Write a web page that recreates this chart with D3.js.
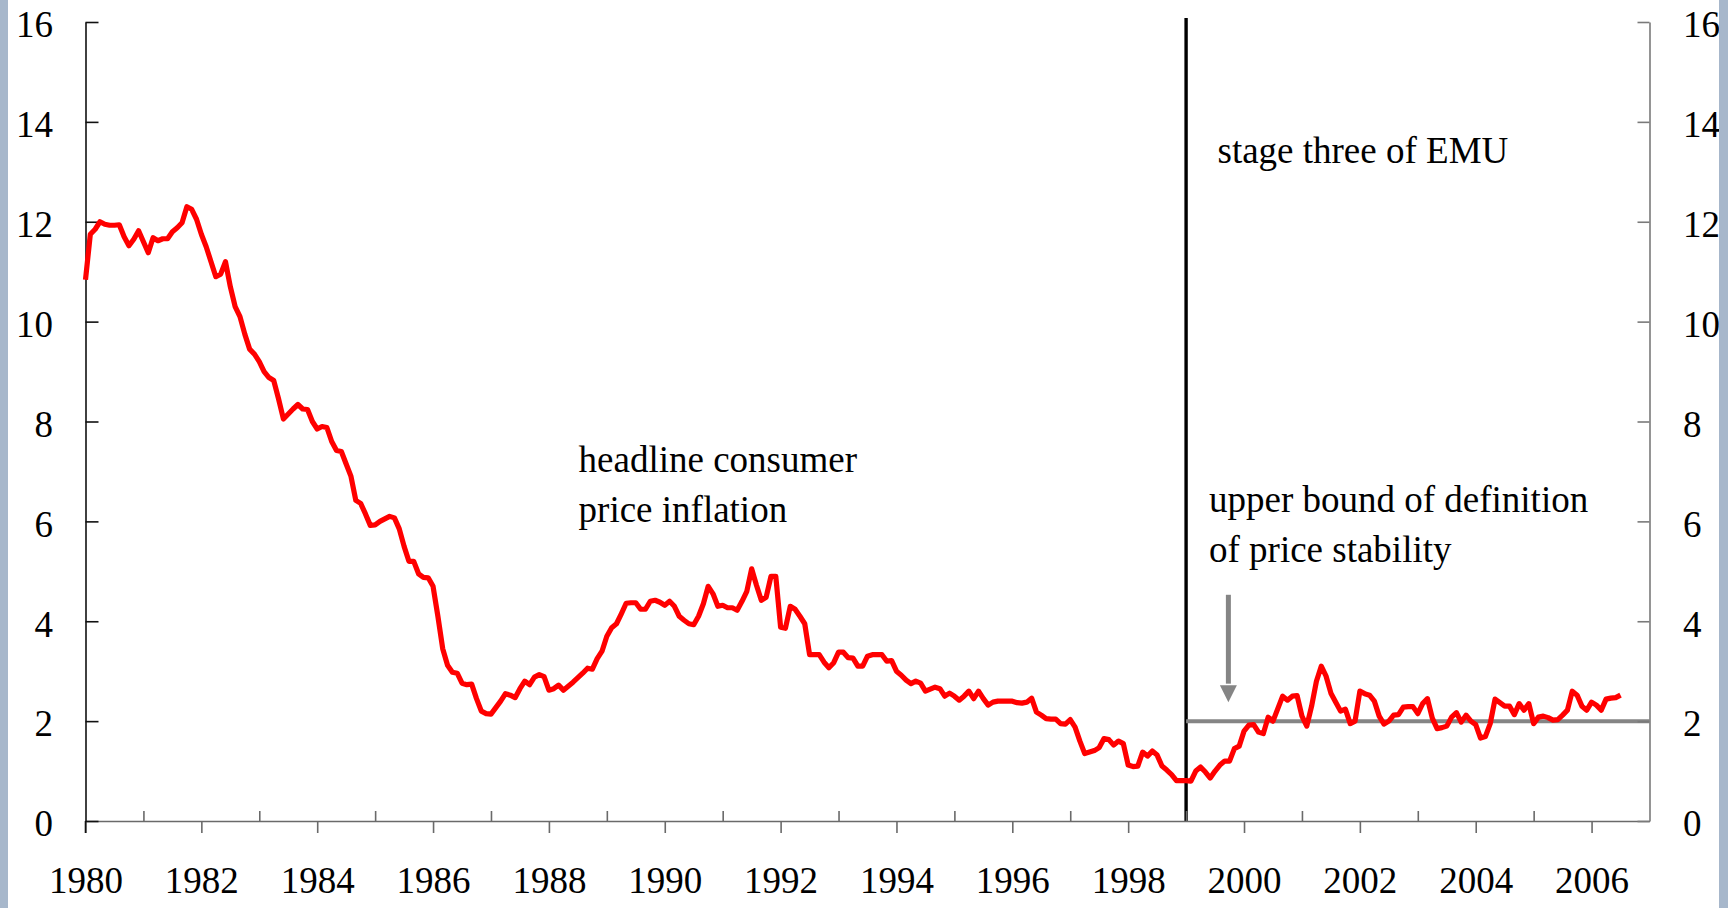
<!DOCTYPE html>
<html>
<head>
<meta charset="utf-8">
<script src="https://cdn.jsdelivr.net/npm/d3@7"></script>
<style>
  html, body { margin: 0; padding: 0; background: #ffffff; }
  svg { display: block; }
  text { font-family: "Liberation Serif", "Times New Roman", serif; fill: #000; }
</style>
</head>
<body>
<svg id="chart" width="1728" height="908"></svg>
<script>
// ---------------- data ----------------
const startYear = 1980;           // first observation: January 1980, monthly
const cpi1980s = [
  10.84, 11.75, 11.85, 12.0, 11.95, 11.93, 11.93, 11.94, 11.7, 11.52, 11.65, 11.82,
  11.6, 11.38, 11.68, 11.62, 11.66, 11.66, 11.8, 11.88, 11.98, 12.3, 12.25, 12.05,
  11.75, 11.5, 11.2, 10.9, 10.95, 11.2, 10.7, 10.3, 10.1, 9.75, 9.45, 9.35,
  9.2, 9.0, 8.88, 8.82, 8.45, 8.05, 8.15, 8.25, 8.34, 8.25, 8.24, 8.0,
  7.85, 7.9, 7.88, 7.6, 7.42, 7.4, 7.15, 6.9, 6.42, 6.36, 6.15, 5.92,
  5.93, 6.0, 6.05, 6.1, 6.07, 5.85, 5.5, 5.2, 5.2, 4.95, 4.88, 4.87,
  4.7, 4.1, 3.45, 3.12, 2.98, 2.96, 2.76, 2.73, 2.74, 2.45, 2.2, 2.15,
  2.14, 2.27, 2.4, 2.55, 2.52, 2.47, 2.65, 2.8, 2.73, 2.88, 2.93, 2.89,
  2.62, 2.65, 2.72, 2.62, 2.7, 2.78, 2.87, 2.96, 3.06, 3.04, 3.25, 3.4,
  3.7, 3.87, 3.95, 4.15, 4.36, 4.37, 4.37, 4.24, 4.24, 4.4, 4.42, 4.38
];
const cpi1990s = [
  4.32, 4.4, 4.3, 4.1, 4.02, 3.95, 3.93, 4.1, 4.35, 4.7, 4.55, 4.3,
  4.32, 4.27, 4.27, 4.22, 4.4, 4.6, 5.05, 4.72, 4.42, 4.48, 4.9, 4.9,
  3.88, 3.86, 4.3, 4.24, 4.1, 3.95, 3.33, 3.33, 3.33, 3.18, 3.07, 3.17,
  3.38, 3.38, 3.27, 3.26, 3.1, 3.1, 3.3, 3.33, 3.33, 3.33, 3.2, 3.21,
  3.0, 2.92, 2.82, 2.75, 2.8, 2.76, 2.6, 2.64, 2.68, 2.65, 2.5, 2.56,
  2.5, 2.42, 2.5, 2.6, 2.45, 2.6, 2.45, 2.32, 2.38, 2.4, 2.4, 2.4,
  2.4, 2.37, 2.36, 2.38, 2.46, 2.18, 2.12, 2.05, 2.04, 2.04, 1.95, 1.94,
  2.03, 1.88, 1.6, 1.35, 1.38, 1.41, 1.47, 1.65, 1.63, 1.52, 1.6, 1.55,
  1.12, 1.09, 1.1, 1.38, 1.3, 1.4, 1.32, 1.1, 1.02, 0.93, 0.81, 0.81,
  0.81, 0.8, 1.0, 1.08, 0.98, 0.86, 1.0, 1.12, 1.2, 1.2, 1.45, 1.5
];
const cpi2000s = [
  1.8, 1.92, 1.93, 1.78, 1.75, 2.08, 2.0, 2.25, 2.5, 2.42, 2.5, 2.51,
  2.1, 1.9, 2.3, 2.8, 3.1, 2.9, 2.56, 2.38, 2.2, 2.24, 1.95, 2.0,
  2.6, 2.55, 2.52, 2.4, 2.1, 1.94, 2.0, 2.12, 2.13, 2.28, 2.29, 2.29,
  2.15, 2.35, 2.45, 2.06, 1.85, 1.87, 1.9, 2.08, 2.17, 1.98, 2.12, 2.0,
  1.93, 1.66, 1.69, 1.95, 2.44, 2.37, 2.3, 2.3, 2.13, 2.35, 2.22, 2.35,
  1.95, 2.08, 2.1, 2.07, 2.02, 2.03, 2.12, 2.22, 2.6, 2.52, 2.3, 2.22,
  2.38, 2.32, 2.22, 2.44, 2.46, 2.47, 2.52
];
const yTicks = [0, 2, 4, 6, 8, 10, 12, 14, 16];
const yearLabels = [1980, 1982, 1984, 1986, 1988, 1990, 1992, 1994, 1996, 1998, 2000, 2002, 2004, 2006];
const minorYears = [1981, 1983, 1985, 1987, 1989, 1991, 1993, 1995, 1997, 1999, 2001, 2003, 2005];
const emuYear = 1999;
const priceStabilityBound = 2;
const labelHeadline = ["headline consumer", "price inflation"];
const labelEmu = ["stage three of EMU"];
const labelBound = ["upper bound of definition", "of price stability"];

// ---------------- layout ----------------
const svg = d3.select("#chart");
const x = d3.scaleLinear().domain([1980, 2007]).range([85.5, 1649.5]);
const y = d3.scaleLinear().domain([0, 16]).range([821, 22]);
const FONT = 37;
const SERIF = "Liberation Serif, Times New Roman, serif";

const series = cpi1980s.concat(cpi1990s, cpi2000s)
  .map((v, i) => ({ t: startYear + i / 12, v }));

// EMU vertical line
svg.append("line")
  .attr("x1", x(emuYear)).attr("x2", x(emuYear))
  .attr("y1", 18).attr("y2", y(0))
  .attr("stroke", "#000").attr("stroke-width", 3.4);

// upper bound line
svg.append("line")
  .attr("x1", x(emuYear)).attr("x2", x(2007))
  .attr("y1", y(priceStabilityBound)).attr("y2", y(priceStabilityBound))
  .attr("stroke", "#858585").attr("stroke-width", 4);

// arrow
const ax = x(1999.73);
svg.append("line")
  .attr("x1", ax).attr("x2", ax)
  .attr("y1", y(4.53)).attr("y2", y(2.75))
  .attr("stroke", "#858585").attr("stroke-width", 5);
svg.append("path")
  .attr("d", `M${ax - 8.5},${y(2.72)} L${ax + 8.5},${y(2.72)} L${ax},${y(2.38)} Z`)
  .attr("fill", "#858585");

// x axis (major ticks down with labels)
const xAxis = d3.axisBottom(x)
  .tickValues(yearLabels)
  .tickFormat(d3.format("d"))
  .tickSizeInner(12).tickSizeOuter(0).tickPadding(33.7);
const gx = svg.append("g").attr("transform", `translate(0,${y(0)})`).call(xAxis);
gx.select(".domain").attr("stroke", "#6a6a6a").attr("stroke-width", 1.6);
gx.selectAll(".tick line").attr("stroke", "#6a6a6a").attr("stroke-width", 1.6);
gx.selectAll(".tick text").attr("font-size", FONT).attr("font-family", SERIF).attr("fill", "#000");

// x axis minor ticks (up)
const xMinor = d3.axisBottom(x).tickValues(minorYears).tickFormat("").tickSizeInner(-10).tickSizeOuter(0);
const gxm = svg.append("g").attr("transform", `translate(0,${y(0)})`).call(xMinor);
gxm.select(".domain").remove();
gxm.selectAll(".tick line").attr("stroke", "#6a6a6a").attr("stroke-width", 1.6);

// left axis
const yLeft = d3.axisLeft(y).tickValues(yTicks).tickFormat(d3.format("d"))
  .tickSizeInner(-13).tickSizeOuter(0).tickPadding(32.5);
const gl = svg.append("g").attr("transform", `translate(${x(1980)},0)`).call(yLeft);
gl.select(".domain").attr("stroke", "#111").attr("stroke-width", 1.6);
gl.selectAll(".tick line").attr("stroke", "#111").attr("stroke-width", 1.6);
gl.selectAll(".tick text").attr("font-size", FONT).attr("dy", "0.4em")
  .attr("font-family", SERIF).attr("fill", "#000");
// extension of left axis down to the first major tick
svg.append("line").attr("x1", x(1980)).attr("x2", x(1980)).attr("y1", y(0)).attr("y2", y(0) + 12)
  .attr("stroke", "#111").attr("stroke-width", 1.6);

// right axis
const yRight = d3.axisRight(y).tickValues(yTicks).tickFormat(d3.format("d"))
  .tickSizeInner(-12).tickSizeOuter(0).tickPadding(33.5);
const gr = svg.append("g").attr("transform", `translate(${x(2007)},0)`).call(yRight);
gr.select(".domain").attr("stroke", "#7a7a7a").attr("stroke-width", 1.6);
gr.selectAll(".tick line").attr("stroke", "#7a7a7a").attr("stroke-width", 1.6);
gr.selectAll(".tick text").attr("font-size", FONT).attr("dy", "0.4em")
  .attr("font-family", SERIF).attr("fill", "#000");

// inflation line
const line = d3.line().x(d => x(d.t)).y(d => y(d.v));
svg.append("path")
  .datum(series)
  .attr("d", line)
  .attr("fill", "none")
  .attr("stroke", "#ff0000")
  .attr("stroke-width", 5.2)
  .attr("stroke-linejoin", "round")
  .attr("stroke-linecap", "butt");

// annotations
function multiline(lines, x0, y0, lh) {
  const t = svg.append("text").attr("font-size", FONT);
  lines.forEach((s, i) => t.append("tspan").attr("x", x0).attr("y", y0 + i * lh).text(s));
}
multiline(labelHeadline, 578.6, 471.5, 50);
multiline(labelEmu, 1217.5, 163, 50);
multiline(labelBound, 1209, 512, 50);

// slide border strips
svg.append("rect").attr("x", 0).attr("y", 0).attr("width", 8).attr("height", 908).attr("fill", "#a7b7cb");
svg.append("rect").attr("x", 1719).attr("y", 0).attr("width", 9).attr("height", 908).attr("fill", "#a7b7cb");
</script>
</body>
</html>
